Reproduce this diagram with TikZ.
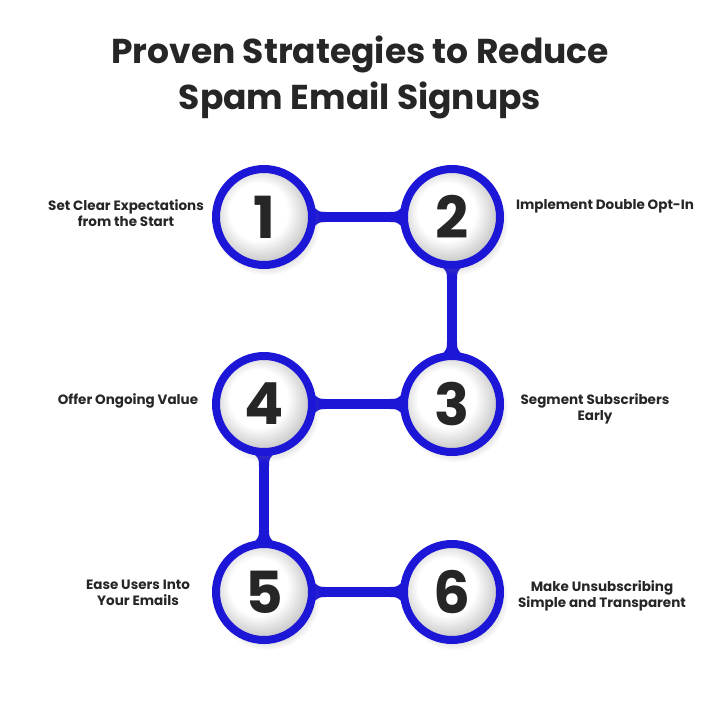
\documentclass[tikz,border=0pt]{standalone}
\usepackage{fontspec}
\setmainfont{Poppins}
\usetikzlibrary{shadows,fadings}
\definecolor{ringblue}{RGB}{28,22,214}
\definecolor{ink}{RGB}{38,38,38}
\pgfdeclareradialshading{disk}{\pgfpoint{-4bp}{4bp}}{color(0bp)=(white); color(15bp)=(white); color(25bp)=(black!20); color(50bp)=(black!20)}
\pgfdeclarelayer{background}
\pgfsetlayers{background,main}
\begin{document}
\begin{tikzpicture}[x=1pt,y=-1pt,
  stepcircle/.style={circle, draw=ringblue, line width=8pt, minimum size=96pt, inner sep=0pt,
    shading=disk, circular drop shadow={shadow xshift=3pt, shadow yshift=-5pt, opacity=0.22},
    font=\fontsize{58}{58}\selectfont\bfseries, text=ink},
  conn/.style={draw=ringblue, line width=10pt},
  lab/.style={font=\fontsize{13.5}{16}\selectfont\bfseries, text=ink, align=center, inner sep=0pt, anchor=north},
  titlestyle/.style={font=\fontsize{34.5}{40}\selectfont\bfseries, text=ink, inner sep=0pt, anchor=base},
  fillet/.pic={\fill[ringblue] (14:49) .. controls (55,5) .. (62,5) -- (62,-5) .. controls (55,-5) .. (-14:49) -- cycle;}
]
\useasboundingbox (0,0) rectangle (720,707);

\node[titlestyle] (t1) at (360,63) {Proven Strategies to Reduce};
\node[titlestyle] (t2) at (360,109) {Spam Email Signups};

\node[stepcircle] (n1) at (264,217) {1};
\node[stepcircle] (n2) at (452,217) {2};
\node[stepcircle] (n3) at (452,404) {3};
\node[stepcircle] (n4) at (264,404) {4};
\node[stepcircle] (n5) at (264,592) {5};
\node[stepcircle] (n6) at (452,592) {6};

\begin{pgfonlayer}{background}
\fill[white] (0,0) rectangle (720,707);
\draw[conn] (n1.center) -- (n2.center);
\draw[conn] (n2.center) -- (n3.center);
\draw[conn] (n3.center) -- (n4.center);
\draw[conn] (n4.center) -- (n5.center);
\draw[conn] (n5.center) -- (n6.center);
\pic[rotate=0] at (n1.center) {fillet};
\pic[rotate=180] at (n2.center) {fillet};
\pic[rotate=-90] at (n2.center) {fillet};
\pic[rotate=90] at (n3.center) {fillet};
\pic[rotate=180] at (n3.center) {fillet};
\pic[rotate=0] at (n4.center) {fillet};
\pic[rotate=-90] at (n4.center) {fillet};
\pic[rotate=90] at (n5.center) {fillet};
\pic[rotate=0] at (n5.center) {fillet};
\pic[rotate=180] at (n6.center) {fillet};
\end{pgfonlayer}

\node[lab] (l1) at (126,199) {Set Clear Expectations\\from the Start};
\node[lab] (l2) at (605,199) {Implement Double Opt-In};
\node[lab] (l3) at (595,393) {Segment Subscribers\\Early};
\node[lab] (l4) at (128,393) {Offer Ongoing Value};
\node[lab] (l5) at (138,580) {Ease Users Into\\Your Emails};
\node[lab] (l6) at (602,580) {Make Unsubscribing\\Simple and Transparent};
\end{tikzpicture}
\end{document}
